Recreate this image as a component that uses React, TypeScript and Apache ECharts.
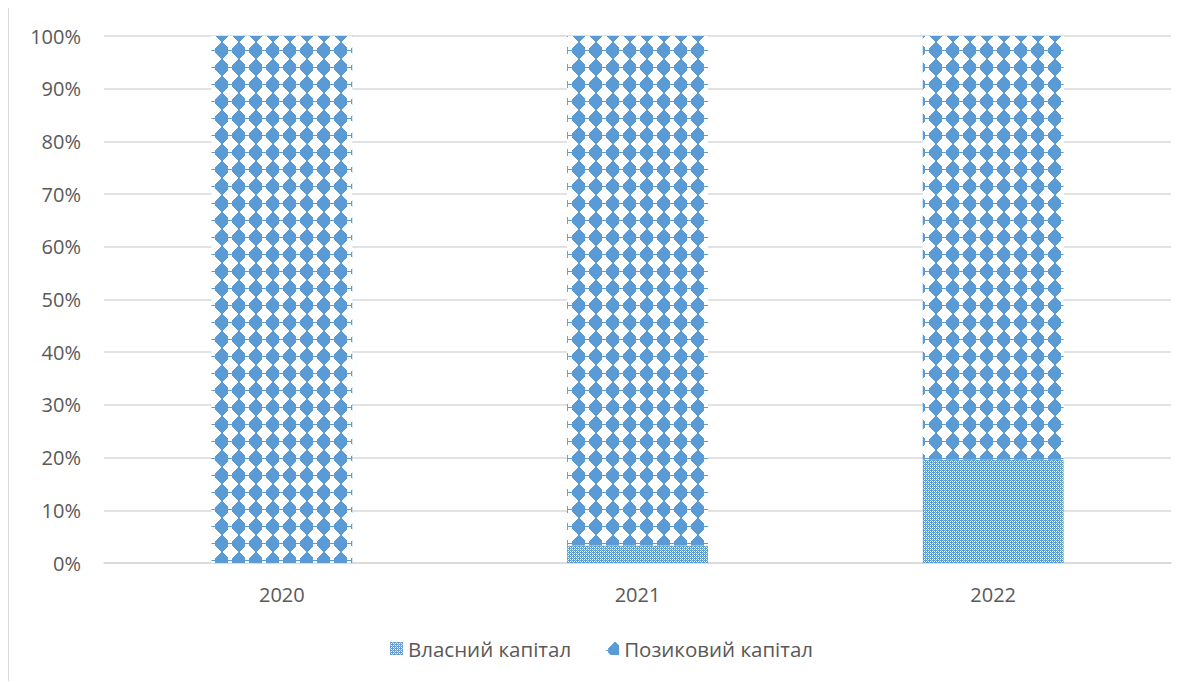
import React, { useEffect, useRef } from "react";
import * as echarts from "echarts";

const categories = ["2020", "2021", "2022"];
const ownCapital = [0, 3.3, 19.6];
const borrowedCapital = [100, 96.7, 80.4];
const seriesNames = ["Власний капітал", "Позиковий капітал"];
const yTicks = [0, 10, 20, 30, 40, 50, 60, 70, 80, 90, 100];

const BLUE = "#5B9BD5";

function diamondTile(): HTMLCanvasElement {
  const c = document.createElement("canvas");
  const s = 17;
  c.width = s;
  c.height = s;
  const g = c.getContext("2d")!;
  g.fillStyle = "#ffffff";
  g.fillRect(0, 0, s, s);
  g.fillStyle = BLUE;
  const cy = 8;
  for (let y = 0; y < s; y++) {
    const dy = Math.abs(y - cy);
    const half = Math.min(6.5, 9 - dy);
    if (half > 0) {
      const x0 = Math.round(8.5 - half);
      const x1 = Math.round(8.5 + half);
      g.fillRect(x0, y, x1 - x0, 1);
    }
  }
  g.fillRect(0, 8, 2, 1);
  g.fillRect(15, 8, 2, 1);
  return c;
}

function fineTile(): HTMLCanvasElement {
  const c = document.createElement("canvas");
  c.width = 4;
  c.height = 4;
  const g = c.getContext("2d")!;
  g.fillStyle = BLUE;
  g.fillRect(0, 0, 4, 4);
  g.fillStyle = "#ffffff";
  g.fillRect(1, 1, 1, 1);
  g.fillRect(3, 3, 1, 1);
  g.fillRect(3, 1, 1, 1);
  g.fillRect(1, 3, 1, 1);
  g.fillStyle = "#A9C9E9";
  g.fillRect(0, 2, 1, 1);
  g.fillRect(2, 0, 1, 1);
  return c;
}

export default function App() {
  const ref = useRef<HTMLDivElement>(null);
  useEffect(() => {
    if (!ref.current) return;
    document.body.style.overflow = "hidden";
    const chart = echarts.init(ref.current, null, { renderer: "svg" });
    const fine = { image: fineTile(), repeat: "repeat" } as any;
    const diamond = { image: diamondTile(), repeat: "repeat" } as any;
    const font = "'Open Sans', sans-serif";
    chart.setOption({
      animation: false,
      grid: { left: 95, right: 23, top: 28, bottom: 118 },
      legend: {
        bottom: 17,
        left: "center",
        itemWidth: 13,
        itemHeight: 13,
        itemGap: 35,
        icon: "rect",
        textStyle: { color: "#595959", fontSize: 20.5, fontFamily: font },
        data: seriesNames,
      },
      xAxis: {
        type: "category",
        data: categories,
        axisTick: { show: false },
        axisLine: { lineStyle: { color: "#d9d9d9", width: 1.5 } },
        axisLabel: { color: "#595959", fontSize: 20, fontFamily: font, margin: 21 },
      },
      yAxis: {
        type: "value",
        min: yTicks[0],
        max: yTicks[yTicks.length - 1],
        interval: 10,
        axisLine: { show: false },
        axisTick: { show: false },
        splitLine: { lineStyle: { color: "#d9d9d9", width: 1.5 } },
        axisLabel: {
          color: "#595959",
          fontSize: 20,
          fontFamily: font,
          margin: 23,
          formatter: (v: number) => `${v}%`,
        },
      },
      series: [
        {
          name: seriesNames[0],
          type: "bar",
          stack: "total",
          data: ownCapital,
          barCategoryGap: "60.4%",
          itemStyle: { color: fine },
        },
        {
          name: seriesNames[1],
          type: "bar",
          stack: "total",
          data: borrowedCapital,
          barCategoryGap: "60.4%",
          itemStyle: { color: diamond },
        },
      ],
    });
    return () => chart.dispose();
  }, []);
  return (
    <div
      style={{
        width: 1186,
        height: 674,
        borderLeft: "1px solid #d9d9d9",
        borderTop: "1px solid #d9d9d9",
        boxSizing: "border-box",
        marginTop: -1,
      }}
    >
      <div ref={ref} style={{ width: 1185, height: 673 }} />
    </div>
  );
}
